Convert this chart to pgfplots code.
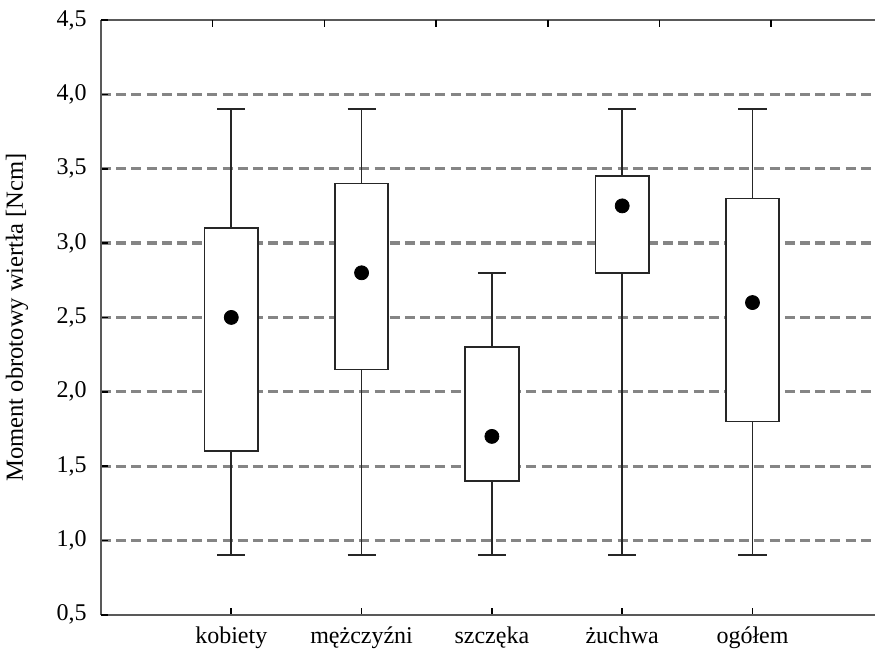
\documentclass[border=0pt,12pt]{standalone}
\usepackage{fontspec}
\setmainfont{Liberation Serif}
\usepackage{pgfplots}
\pgfplotsset{compat=1.18}
\usepgfplotslibrary{statistics}
\begin{document}
\begin{tikzpicture}
\pgfplotsset{
  common/.style={
    width=391pt, height=297.5pt, scale only axis,
    xmin=-1, xmax=5, ymin=0.5, ymax=4.5,
    tick align=inside, major tick length=3.5pt,
    every tick/.style={draw=black, line width=0.8pt},
    tick label style={font=\fontsize{12}{14}\selectfont},
    label style={font=\fontsize{12.3}{14}\selectfont},
  }
}
\begin{axis}[
  common,
  axis y line*=left, axis x line*=box,
  axis line style={line width=1.3pt, color=black!65},
  xtick pos=left, ytick pos=left,
  xtick={0,1,2,3,4},
  xticklabels={kobiety, mężczyźni, szczęka, żuchwa, ogółem},
  ytick={1,1.5,2,2.5,3,3.5,4},
  extra y ticks={0.5,4.5},
  extra y tick style={ymajorgrids=false},
  /pgf/number format/.cd, fixed, fixed zerofill, precision=1, use comma, assume math mode=true,
  /pgfplots/.cd,
  yticklabel style={xshift=-3pt},
  xticklabel style={yshift=-2pt},
  ymajorgrids,
  major grid style={black!48, line width=1.6pt, dash pattern=on 5pt off 2.6pt},
  ylabel={Moment obrotowy wiertła [Ncm]},
  ylabel style={at={(axis description cs:-0.1074,0.5)}, rotate=0, anchor=center},
  boxplot/draw direction=y,
  boxplot/box extend=0.41,
  boxplot/whisker extend=0.215,
  boxplot/draw/median/.code={},
]
\addplot[black!85, fill=white, line width=0.9pt, boxplot prepared={draw position=0, lower whisker=0.9, lower quartile=1.6, median=2.5, upper quartile=3.1, upper whisker=3.9}] coordinates {};
\addplot[black!85, fill=white, line width=0.9pt, boxplot prepared={draw position=1, lower whisker=0.9, lower quartile=2.15, median=2.8, upper quartile=3.4, upper whisker=3.9}] coordinates {};
\addplot[black!85, fill=white, line width=0.9pt, boxplot prepared={draw position=2, lower whisker=0.9, lower quartile=1.4, median=1.7, upper quartile=2.3, upper whisker=2.8}] coordinates {};
\addplot[black!85, fill=white, line width=0.9pt, boxplot prepared={draw position=3, lower whisker=0.9, lower quartile=2.8, median=3.25, upper quartile=3.45, upper whisker=3.9}] coordinates {};
\addplot[black!85, fill=white, line width=0.9pt, boxplot prepared={draw position=4, lower whisker=0.9, lower quartile=1.8, median=2.6, upper quartile=3.3, upper whisker=3.9}] coordinates {};
\addplot[only marks, mark=*, mark size=3.5pt, black] coordinates {(0,2.5) (1,2.8) (2,1.7) (3,3.25) (4,2.6)};
\end{axis}
\begin{axis}[
  common,
  axis line style={draw=none},
  xtick pos=right,
  xtick={-0.142857,0.714286,1.571429,2.428571,3.285714,4.142857},
  xticklabels={},
  ytick=\empty,
]
\end{axis}
\pgfresetboundingbox
\path ([xshift=-50.5pt,yshift=10pt]current axis.north west) rectangle ([xshift=-3.9pt,yshift=-21pt]current axis.south east);
\end{tikzpicture}
\end{document}
